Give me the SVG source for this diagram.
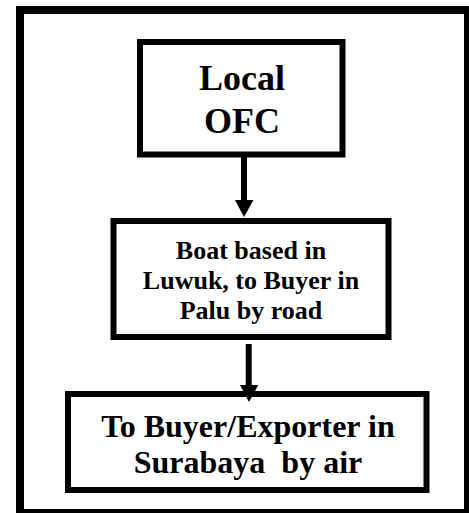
<svg xmlns="http://www.w3.org/2000/svg" width="469" height="513" viewBox="0 0 469 513">
  <style>
    .frame { fill: #fff; stroke: #000; stroke-width: 8; }
    .box { fill: #fff; stroke: #000; stroke-width: 6; }
    .lbl { font-family: 'Liberation Serif', 'Times New Roman', serif; font-weight: bold; fill: #000; text-anchor: middle; }
    .edge { stroke: #000; stroke-width: 6; fill: none; }
    .head { fill: #000; }
  </style>
  <rect width="469" height="513" fill="#fff"/>
  <!-- outer frame, runs off the right and bottom edges -->
  <rect class="frame" x="20" y="10" width="448" height="503"/>

  <g id="node-local-ofc">
    <rect class="box" x="140" y="42" width="202.5" height="112.5"/>
    <text class="lbl" x="242" y="89.5" font-size="36">Local</text>
    <text class="lbl" x="242" y="132.5" font-size="36">OFC</text>
  </g>

  <g id="node-boat-luwuk">
    <rect class="box" x="113.5" y="221" width="275" height="116"/>
    <text class="lbl" x="251" y="259" font-size="26">Boat based in</text>
    <text class="lbl" x="251" y="289" font-size="26">Luwuk, to Buyer in</text>
    <text class="lbl" x="251" y="319" font-size="26">Palu by road</text>
  </g>

  <g id="node-surabaya">
    <rect class="box" x="68" y="394" width="358.5" height="96"/>
    <text class="lbl" x="248" y="437.3" font-size="32">To Buyer/Exporter in</text>
    <text class="lbl" x="248" y="473" font-size="32" xml:space="preserve">Surabaya  by air</text>
  </g>

  <g id="connectors">
    <line class="edge" x1="244" y1="157" x2="244" y2="201"/>
    <polygon class="head" points="235,200 253.5,200 244,217"/>
    <line class="edge" x1="248.7" y1="344" x2="248.7" y2="386"/>
    <polygon class="head" points="240,385 258.3,385 249,402"/>
  </g>
</svg>
